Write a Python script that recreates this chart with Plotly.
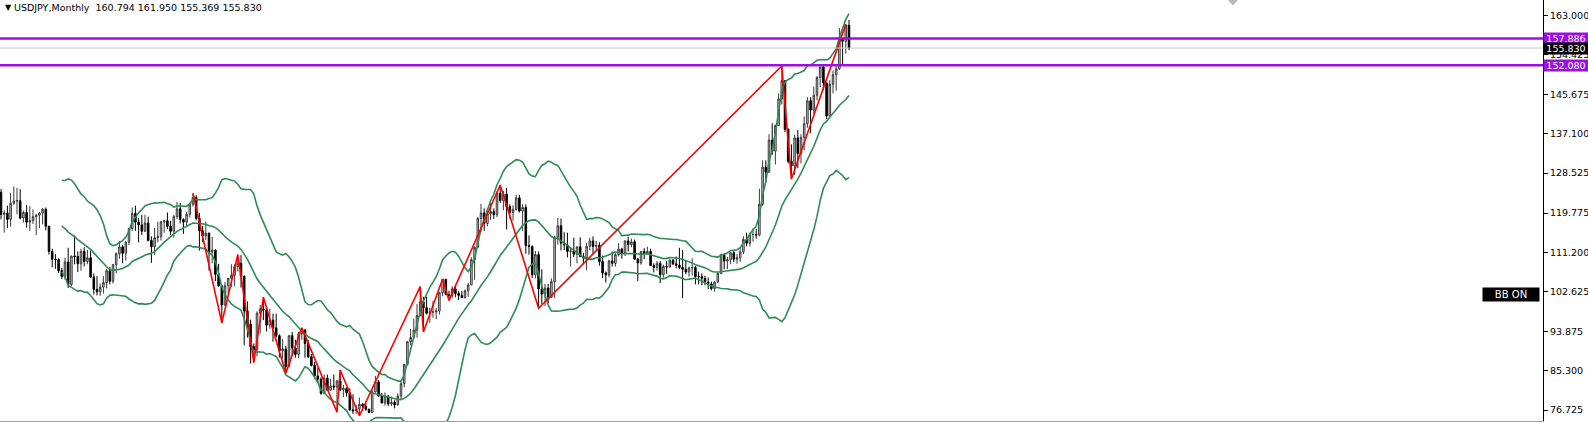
import numpy as np
import pandas as pd
import plotly.graph_objects as go

SYMBOL = "USDJPY,Monthly"
MONTHS = pd.period_range("2002-06", "2024-07", freq="M").strftime("%Y-%m").tolist()

OPEN = [
    124.3, 119.5, 119.8, 118.4, 121.9, 122.4, 122.5,
    118.7, 119.9, 117.8, 118.1, 119.0, 119.3, 119.8, 120.6, 116.9, 111.4, 109.7, 109.6,
    107.2, 105.9, 109.1, 104.2, 110.4, 110.3, 108.7, 111.4, 109.2, 110.0, 105.8, 103.1,
    102.6, 103.6, 104.6, 107.2, 104.9, 108.5, 110.9, 112.4, 111.0, 113.4, 116.4, 119.7,
    117.8, 117.2, 115.8, 117.6, 113.8, 112.4, 114.4, 114.6, 117.9, 118.1, 116.9, 115.8,
    119.0, 120.7, 118.4, 117.8, 119.5, 121.7, 123.2, 118.6, 115.9, 114.8, 115.4, 111.3,
    111.7, 106.4, 103.9, 99.7, 103.9, 105.5, 106.2, 108.1, 108.8, 106.0, 98.4, 95.5,
    90.6, 89.9, 97.9, 98.8, 98.6, 95.3, 96.4, 94.7, 93.0, 89.7, 90.1, 86.3,
    93.0, 90.3, 88.9, 93.4, 94.2, 91.3, 88.4, 86.5, 84.2, 83.5, 80.4, 83.7,
    81.1, 82.0, 81.8, 83.1, 81.2, 81.5, 80.5, 76.8, 76.6, 77.0, 78.0, 77.6,
    76.9, 76.2, 80.7, 82.9, 79.8, 78.3, 79.8, 78.1, 78.4, 77.9, 79.8, 82.5,
    86.7, 91.7, 92.6, 94.2, 97.4, 100.4, 99.1, 97.9, 98.1, 98.2, 98.4, 102.4,
    105.3, 102.0, 101.8, 103.2, 102.2, 101.8, 101.3, 102.8, 104.1, 109.6, 112.3, 118.6,
    119.8, 117.5, 119.6, 120.1, 119.4, 124.1, 122.5, 123.9, 121.2, 119.9, 120.6, 123.1,
    120.2, 121.0, 112.7, 112.5, 106.3, 110.7, 103.2, 102.1, 103.4, 101.4, 104.8, 114.5,
    117.0, 113.2, 112.8, 111.4, 111.5, 110.8, 112.4, 110.3, 110.0, 112.5, 113.7, 112.5,
    112.7, 109.2, 106.7, 106.3, 109.3, 108.8, 110.7, 111.9, 111.0, 113.7, 112.9, 113.5,
    109.7, 108.9, 111.4, 110.9, 111.4, 108.3, 107.9, 108.8, 106.3, 108.1, 108.0, 109.5,
    108.7, 108.4, 107.9, 107.5, 106.9, 107.8, 107.9, 105.9, 105.9, 105.5, 104.7, 104.3,
    103.3, 104.7, 106.6, 110.7, 109.3, 109.6, 111.1, 109.7, 110.0, 111.3, 114.0, 113.2,
    115.1, 115.1, 115.0, 121.7, 129.8, 128.7, 135.7, 133.3, 138.9, 144.7, 148.7, 138.1,
    131.1, 130.1, 136.2, 132.8, 136.3, 139.3, 144.3, 142.3, 145.5, 149.4, 151.7, 148.2,
    141.0, 147.9, 150.0, 151.3, 157.8, 157.3, 160.794,
]
HIGH = [
    125.0, 120.4, 121.4, 124.1, 125.6, 125.3, 125.0,
    120.3, 121.5, 121.3, 120.6, 119.6, 120.0, 120.9, 121.0, 117.0, 112.0, 110.8, 109.9,
    107.8, 110.0, 112.2, 110.5, 114.9, 111.4, 112.0, 112.3, 111.7, 111.6, 106.6, 106.0,
    104.4, 106.0, 107.6, 108.0, 108.7, 111.2, 113.7, 112.8, 113.6, 116.5, 121.0, 121.4,
    118.7, 119.4, 119.4, 119.0, 114.7, 116.5, 117.9, 118.0, 118.3, 119.9, 118.1, 119.4,
    122.2, 122.0, 118.6, 120.0, 122.0, 124.1, 123.7, 119.8, 117.0, 117.9, 115.5, 114.6,
    111.8, 108.7, 104.0, 104.7, 105.6, 108.6, 108.6, 110.7, 110.6, 106.1, 100.5, 96.5,
    91.3, 98.3, 99.7, 101.4, 99.4, 98.9, 97.8, 97.8, 93.3, 92.3, 90.8, 93.1,
    93.8, 92.1, 93.8, 94.7, 94.5, 92.1, 89.0, 87.3, 86.0, 83.9, 84.5, 84.5,
    83.6, 84.5, 83.3, 85.5, 82.2, 81.7, 81.5, 80.2, 77.9, 79.5, 78.3, 78.3,
    77.1, 81.2, 84.2, 83.3, 80.5, 80.6, 80.0, 79.7, 78.9, 80.4, 83.0, 86.8,
    91.8, 94.5, 96.7, 99.9, 103.7, 101.5, 101.5, 99.1, 100.6, 99.1, 102.5, 105.4,
    105.4, 102.8, 103.8, 104.1, 102.8, 102.8, 103.1, 104.5, 110.1, 112.5, 118.9, 121.8,
    120.8, 120.5, 122.0, 120.8, 124.5, 125.9, 124.6, 125.3, 121.7, 121.5, 123.8, 123.7,
    121.7, 121.7, 114.9, 112.7, 111.5, 111.4, 107.5, 104.3, 104.3, 105.5, 114.8, 118.7,
    118.6, 115.6, 115.5, 112.2, 114.4, 112.5, 114.5, 111.1, 113.3, 114.4, 114.7, 113.7,
    113.4, 110.5, 107.0, 109.6, 111.4, 111.0, 113.2, 112.2, 113.8, 114.6, 114.2, 114.0,
    110.0, 111.5, 112.1, 112.4, 112.0, 108.8, 109.3, 109.3, 108.5, 109.3, 109.7, 109.7,
    110.3, 112.2, 111.7, 109.4, 108.1, 109.9, 108.2, 107.0, 106.6, 106.1, 105.7, 104.8,
    104.9, 106.7, 110.9, 110.9, 110.2, 111.2, 111.7, 110.8, 112.1, 114.7, 115.5, 115.5,
    116.4, 116.3, 125.1, 131.3, 131.3, 137.0, 139.4, 139.1, 145.9, 151.9, 148.8, 138.2,
    134.8, 136.9, 137.9, 137.0, 140.9, 145.1, 145.1, 147.4, 149.7, 151.75, 151.9, 148.3,
    148.8, 150.9, 151.9, 160.2, 157.7, 161.0, 161.95,
]
LOW = [
    118.4, 115.5, 116.5, 116.8, 121.6, 119.5, 118.4,
    117.7, 116.6, 115.9, 117.4, 115.0, 116.5, 117.3, 116.0, 110.7, 107.9, 107.6, 106.7,
    105.4, 105.2, 103.4, 103.8, 108.6, 106.9, 107.2, 108.1, 108.6, 105.6, 102.0, 101.8,
    101.7, 102.2, 103.3, 104.2, 104.4, 106.6, 109.8, 108.8, 109.4, 112.8, 115.9, 115.9,
    113.4, 115.0, 115.6, 113.6, 108.9, 110.6, 113.4, 113.8, 115.5, 116.3, 115.0, 114.4,
    118.5, 117.5, 115.2, 117.0, 118.8, 121.2, 118.2, 111.6, 113.4, 113.9, 107.2, 108.8,
    104.9, 103.7, 95.8, 99.5, 102.0, 103.7, 103.8, 107.0, 103.5, 90.9, 92.6, 86.9,
    87.1, 88.5, 93.5, 96.4, 93.9, 94.5, 91.7, 92.6, 88.2, 88.0, 84.8, 86.1,
    88.8, 88.2, 88.1, 92.1, 88.2, 88.1, 86.3, 83.6, 82.9, 80.1, 80.2, 80.9,
    81.0, 81.1, 76.3, 80.9, 79.6, 79.7, 76.6, 75.9, 75.9, 75.5, 76.6, 76.6,
    76.1, 76.1, 80.6, 79.6, 78.2, 77.7, 77.6, 77.6, 77.1, 77.7, 79.1, 81.7,
    86.5, 90.9, 92.6, 92.6, 97.3, 93.8, 97.6, 95.8, 96.9, 96.6, 97.6, 101.6,
    101.8, 100.7, 101.2, 101.4, 100.8, 101.2, 101.1, 101.5, 104.0, 105.2, 112.2, 115.6,
    115.9, 116.9, 118.3, 118.5, 118.9, 122.0, 120.4, 116.2, 118.6, 118.1, 120.3, 119.9,
    115.9, 110.9, 110.7, 105.6, 105.5, 99.0, 99.9, 99.5, 100.1, 101.2, 101.2, 112.9,
    111.6, 111.7, 110.1, 108.1, 110.2, 108.8, 110.1, 108.6, 107.3, 111.7, 110.8, 111.4,
    108.3, 105.6, 104.6, 105.7, 108.1, 108.1, 110.3, 109.8, 110.4, 111.4, 112.3, 109.6,
    104.9, 108.5, 109.7, 110.8, 108.2, 106.8, 107.2, 104.5, 105.7, 106.5, 107.9, 108.4,
    107.7, 107.5, 101.2, 106.4, 105.9, 106.1, 104.2, 104.2, 104.0, 104.0, 103.2, 102.9,
    102.6, 104.4, 106.4, 107.5, 107.5, 108.6, 109.1, 108.7, 109.1, 110.8, 112.5, 112.5,
    113.5, 114.2, 114.7, 121.3, 126.4, 128.6, 132.5, 130.4, 138.8, 143.5, 137.5, 130.6,
    127.2, 128.1, 129.6, 130.6, 133.5, 138.4, 137.2, 141.5, 144.4, 147.3, 146.7, 140.3,
    140.8, 145.9, 146.5, 151.0, 151.9, 154.6, 155.369,
]
CLOSE = [
    119.5, 119.8, 118.4, 121.9, 122.4, 122.5, 118.7,
    119.9, 117.8, 118.1, 119.0, 119.3, 119.8, 120.6, 116.9, 111.4, 109.7, 109.6, 107.2,
    105.9, 109.1, 104.2, 110.4, 110.3, 108.7, 111.4, 109.2, 110.0, 105.8, 103.1, 102.6,
    103.6, 104.6, 107.2, 104.9, 108.5, 110.9, 112.4, 111.0, 113.4, 116.4, 119.7, 117.8,
    117.2, 115.8, 117.6, 113.8, 112.4, 114.4, 114.6, 117.9, 118.1, 116.9, 115.8, 119.0,
    120.7, 118.4, 117.8, 119.5, 121.7, 123.2, 118.6, 115.9, 114.8, 115.4, 111.3, 111.7,
    106.4, 103.9, 99.7, 103.9, 105.5, 106.2, 108.1, 108.8, 106.0, 98.4, 95.5, 90.6,
    89.9, 97.9, 98.8, 98.6, 95.3, 96.4, 94.7, 93.0, 89.7, 90.1, 86.3, 93.0,
    90.3, 88.9, 93.4, 94.2, 91.3, 88.4, 86.5, 84.2, 83.5, 80.4, 83.7, 81.1,
    82.0, 81.8, 83.1, 81.2, 81.5, 80.5, 76.8, 76.6, 77.0, 78.0, 77.6, 76.9,
    76.2, 80.7, 82.9, 79.8, 78.3, 79.8, 78.1, 78.4, 77.9, 79.8, 82.5, 86.7,
    91.7, 92.6, 94.2, 97.4, 100.4, 99.1, 97.9, 98.1, 98.2, 98.4, 102.4, 105.3,
    102.0, 101.8, 103.2, 102.2, 101.8, 101.3, 102.8, 104.1, 109.6, 112.3, 118.6, 119.8,
    117.5, 119.6, 120.1, 119.4, 124.1, 122.5, 123.9, 121.2, 119.9, 120.6, 123.1, 120.2,
    121.0, 112.7, 112.5, 106.3, 110.7, 103.2, 102.1, 103.4, 101.4, 104.8, 114.5, 117.0,
    113.2, 112.8, 111.4, 111.5, 110.8, 112.4, 110.3, 110.0, 112.5, 113.7, 112.5, 112.7,
    109.2, 106.7, 106.3, 109.3, 108.8, 110.7, 111.9, 111.0, 113.7, 112.9, 113.5, 109.7,
    108.9, 111.4, 110.9, 111.4, 108.3, 107.9, 108.8, 106.3, 108.1, 108.0, 109.5, 108.7,
    108.4, 107.9, 107.5, 106.9, 107.8, 107.9, 105.9, 105.9, 105.5, 104.7, 104.3, 103.3,
    104.7, 106.6, 110.7, 109.3, 109.6, 111.1, 109.7, 110.0, 111.3, 114.0, 113.2, 115.1,
    115.1, 115.0, 121.7, 129.8, 128.7, 135.7, 133.3, 138.9, 144.7, 148.7, 138.1, 131.1,
    130.1, 136.2, 132.8, 136.3, 139.3, 144.3, 142.3, 145.5, 149.4, 151.7, 148.2, 141.0,
    147.9, 150.0, 151.3, 157.8, 157.3, 160.88, 155.830,
]

# zigzag pivots (month, H/L)
ZZ_MONTHS = ["2007-06", "2008-03", "2008-08", "2009-01", "2009-04", "2009-11", "2010-04",
             "2011-03", "2011-04", "2011-10", "2013-05", "2013-06", "2013-12", "2014-02",
             "2015-06", "2016-06", "2022-10", "2023-01", "2024-06"]
ZZ_KIND = ["H", "L", "H", "L", "H", "L", "H", "L", "H", "L", "H", "L", "H", "L", "H", "L", "H", "L", "H"]

LEVELS = [157.886, 152.080]
TICKS = [163.000, 154.425, 145.675, 137.100, 128.525, 119.775, 111.200, 102.625, 93.875, 85.300, 76.725]
BB_PERIOD, BB_DEV = 20, 2.0

FONT = "Tahoma, 'DejaVu Sans', sans-serif"
VIOLET = "#9A10E0"
GREEN = "#2E8B57"

x = np.arange(len(MONTHS))
close = np.array(CLOSE)

# bollinger bands
mid, up, lo = [np.full(len(close), np.nan) for _ in range(3)]
for i in range(BB_PERIOD - 1, len(close)):
    w = close[i - BB_PERIOD + 1:i + 1]
    mid[i] = w.mean()
    sd = w.std()
    up[i] = mid[i] + BB_DEV * sd
    lo[i] = mid[i] - BB_DEV * sd

fig = go.Figure()
for band in (up, mid, lo):
    fig.add_trace(go.Scatter(x=x, y=band, mode="lines", line=dict(color=GREEN, width=1.6),
                             hoverinfo="skip"))

fig.add_trace(go.Candlestick(
    x=x, open=OPEN, high=HIGH, low=LOW, close=CLOSE, text=MONTHS,
    increasing=dict(line=dict(color="#3a3a3a", width=1), fillcolor="#d4d4d4"),
    decreasing=dict(line=dict(color="#000000", width=1), fillcolor="#000000"),
    whiskerwidth=0,
))

zz_x = [MONTHS.index(m) for m in ZZ_MONTHS]
zz_y = [HIGH[i] if k == "H" else LOW[i] for i, k in zip(zz_x, ZZ_KIND)]
fig.add_trace(go.Scatter(x=zz_x, y=zz_y, mode="lines", line=dict(color="#FF0000", width=1.6),
                         hoverinfo="skip"))

for lv in LEVELS:
    fig.add_hline(y=lv, line=dict(color=VIOLET, width=2.5))
fig.add_hline(y=CLOSE[-1], line=dict(color="#C8C8C8", width=1))

# small grey object marker clipped at the top edge
fig.add_shape(type="path", xref="paper", yref="paper",
              path="M 0.7958 1 L 0.8023 1 L 0.79905 0.987 Z",
              fillcolor="#B8B8B8", line=dict(width=0))

ann = []
for lv in LEVELS:
    ann.append(dict(x=1, xref="paper", xanchor="left", y=lv, yref="y", yanchor="middle",
                    text=f"{lv:.3f}", showarrow=False, bgcolor=VIOLET, borderpad=0, width=44,
                    font=dict(family=FONT, size=9.5, color="white")))
ann.append(dict(x=1, xref="paper", xanchor="left", y=CLOSE[-1], yref="y", yanchor="middle",
                text=f"{CLOSE[-1]:.3f}", showarrow=False, bgcolor="black", borderpad=0, width=44,
                font=dict(family=FONT, size=9.5, color="white")))
ann.append(dict(x=0, xref="paper", xanchor="left", xshift=3, y=1, yref="paper", yanchor="top", yshift=-1,
                text="▼", showarrow=False, font=dict(family=FONT, size=8, color="black")))
ann.append(dict(x=0, xref="paper", xanchor="left", xshift=12, y=1, yref="paper", yanchor="top",
                text=f"{SYMBOL}  {OPEN[-1]:.3f} {HIGH[-1]:.3f} {LOW[-1]:.3f} {CLOSE[-1]:.3f}",
                showarrow=False, font=dict(family=FONT, size=9.5, color="black")))
ann.append(dict(x=0.979, xref="paper", xanchor="center", y=0.2993, yref="paper", yanchor="middle",
                text="BB ON", showarrow=False, bgcolor="black", width=54, borderpad=1,
                font=dict(family=FONT, size=10, color="white")))

fig.update_layout(
    width=1588, height=422,
    paper_bgcolor="white", plot_bgcolor="white",
    showlegend=False,
    margin=dict(l=0, r=45, t=0, b=1, pad=0),
    font=dict(family=FONT, size=9.5, color="black"),
    annotations=ann,
    xaxis=dict(range=[-0.3125, 481.875], showgrid=False, zeroline=False, showticklabels=False,
               ticks="", showline=True, linecolor="#A0A0A0", rangeslider=dict(visible=False),
               automargin=False),
    yaxis=dict(range=[74.36, 166.32], side="right", showgrid=False, zeroline=False,
               tickvals=TICKS, ticktext=[f"{t:.3f}" for t in TICKS], ticks="outside",
               ticklen=4, tickcolor="black", showline=True, linecolor="black", linewidth=1,
               tickfont=dict(family=FONT, size=9.5, color="black"), automargin=False),
)

fig.write_html("out.html", config={"displayModeBar": False},
               post_script="document.body.style.margin='0';document.body.style.overflow='hidden';")
